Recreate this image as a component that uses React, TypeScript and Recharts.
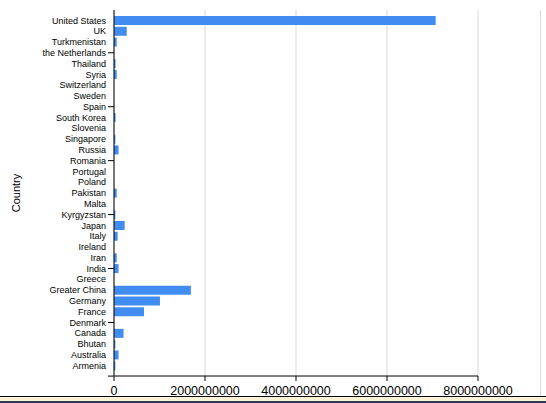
import React from 'react';
import { BarChart, Bar, XAxis, YAxis, CartesianGrid } from 'recharts';

const countries = [
  'United States', 'UK', 'Turkmenistan', 'the Netherlands', 'Thailand', 'Syria',
  'Switzerland', 'Sweden', 'Spain', 'South Korea', 'Slovenia', 'Singapore',
  'Russia', 'Romania', 'Portugal', 'Poland', 'Pakistan', 'Malta', 'Kyrgyzstan',
  'Japan', 'Italy', 'Ireland', 'Iran', 'India', 'Greece', 'Greater China',
  'Germany', 'France', 'Denmark', 'Canada', 'Bhutan', 'Australia', 'Armenia',
];

const amounts = [
  7070000000, 280000000, 60000000, 0, 35000000, 60000000,
  0, 0, 0, 35000000, 0, 30000000,
  100000000, 0, 0, 0, 60000000, 0, 30000000,
  235000000, 80000000, 0, 60000000, 100000000, 0, 1690000000,
  1010000000, 660000000, 0, 210000000, 30000000, 100000000, 30000000,
];

const xTicks = [0, 2000000000, 4000000000, 6000000000, 8000000000];

const data = countries.map((country, i) => ({ country, value: amounts[i] }));

const FONT = "Arial, 'Liberation Sans', sans-serif";

// labels only get a tick mark every 5 rows, like the original
const CountryTick = (props: any) => {
  const { x, y, payload, index } = props;
  const marked = index % 5 === 3;
  const last = index === countries.length - 1;
  return (
    <g>
      {marked && <line x1={x + 2} x2={x + 8} y1={y} y2={y} stroke="#000" />}
      {last && <line x1={x + 2} x2={x + 8} y1={y + 10.5} y2={y + 10.5} stroke="#000" />}
      <text x={x} y={y} dy="0.355em" textAnchor="end" fontSize={9} fill="#000" fontFamily={FONT}>
        {payload.value}
      </text>
    </g>
  );
};

export default function App() {
  return (
    <div style={{ position: 'absolute', left: 0, top: 0, width: 546, height: 403, background: '#fff' }}>
      <BarChart
        width={546}
        height={403}
        data={data}
        layout="vertical"
        margin={{ top: 10, right: 68, bottom: 0, left: 0 }}
      >
        <CartesianGrid horizontal={false} stroke="#d9d9d9" />
        <XAxis
          type="number"
          domain={[0, 8000000000]}
          ticks={xTicks}
          height={27}
          tickSize={5}
          tickMargin={5}
          stroke="#000"
          tick={{ fill: '#000', fontSize: 12.5, fontFamily: FONT }}
        />
        <YAxis
          type="category"
          dataKey="country"
          width={114}
          interval={0}
          tickLine={false}
          tickSize={6}
          tickMargin={2}
          padding={{ top: 5, bottom: 5 }}
          stroke="#000"
          tick={<CountryTick />}
          label={{
            value: 'Country',
            angle: -90,
            position: 'insideLeft',
            offset: 16,
            style: { textAnchor: 'middle', fontSize: 11, fill: '#000', fontFamily: FONT },
          }}
        />
        <Bar dataKey="value" fill="#418cf0" barSize={9} isAnimationActive={false} />
      </BarChart>
      <div style={{ position: 'absolute', left: 540, top: 10, width: 1, height: 386, background: '#d9d9d9' }} />
      <div style={{ position: 'absolute', left: 0, top: 396, width: 546, height: 1, background: '#000' }} />
      <div style={{ position: 'absolute', left: 0, top: 397, width: 546, height: 4, background: '#fdf1d6' }} />
      <div style={{ position: 'absolute', left: 0, top: 401, width: 546, height: 2, background: '#2b3a4f' }} />
    </div>
  );
}
